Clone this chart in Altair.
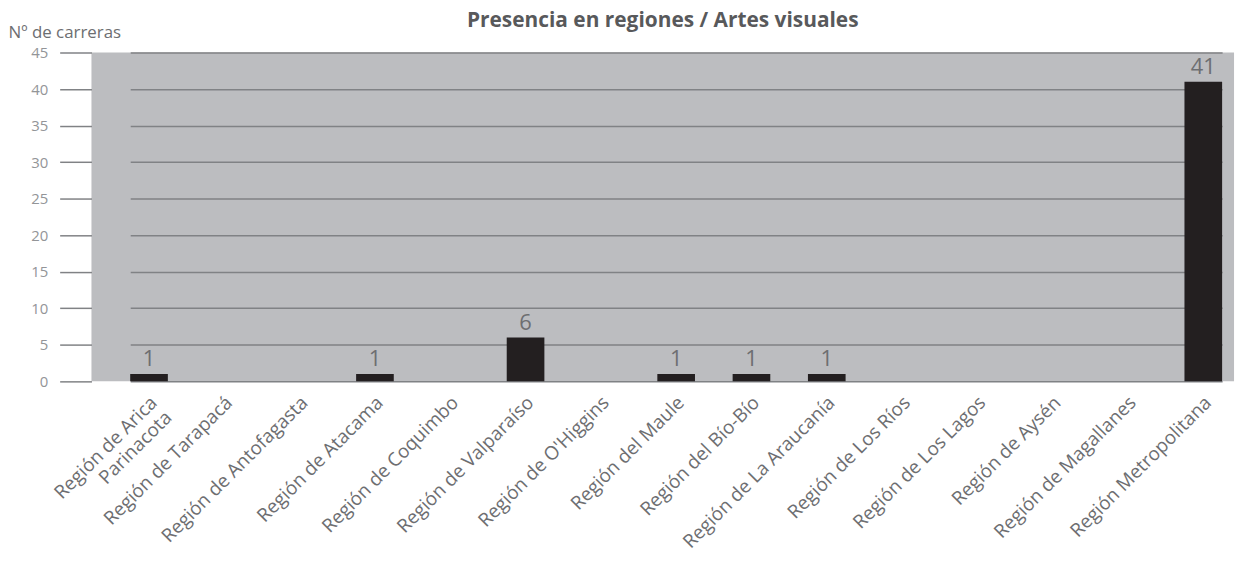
import altair as alt
import pandas as pd

regions = [
    "Región de Arica Parinacota",
    "Región de Tarapacá",
    "Región de Antofagasta",
    "Región de Atacama",
    "Región de Coquimbo",
    "Región de Valparaíso",
    "Región de O'Higgins",
    "Región del Maule",
    "Región del Bío-Bío",
    "Región de La Araucanía",
    "Región de Los Ríos",
    "Región de Los Lagos",
    "Región de Aysén",
    "Región de Magallanes",
    "Región Metropolitana",
]
counts = [1, 0, 0, 1, 0, 6, 0, 1, 1, 1, 0, 0, 0, 0, 41]
y_ticks = [0, 5, 10, 15, 20, 25, 30, 35, 40, 45]

df = pd.DataFrame({"region": regions, "n": counts})

FONT = "Open Sans"

x_scale = alt.Scale(domain=regions, paddingInner=0.5, paddingOuter=0, range=[39, 1138])
y_scale = alt.Scale(domain=[0, 45], nice=False)

base = alt.Chart(df).encode(
    x=alt.X(
        "region:N",
        sort=regions,
        title=None,
        scale=x_scale,
        axis=alt.Axis(
            labelAngle=-45,
            labelAlign="right",
            labelBaseline="middle",
            labelFont=FONT,
            labelFontSize=19,
            labelColor="#6d6e71",
            labelPadding=18,
            labelOffset=5,
            ticks=False,
            domain=False,
            labelOverlap=False,
            labelLimit=400,
            labelExpr="datum.label == 'Región de Arica Parinacota' ? ['Región de Arica', 'Parinacota'] : datum.label",
        ),
    ),
    y=alt.Y(
        "n:Q",
        scale=y_scale,
        title="Nº de carreras",
        axis=alt.Axis(
            values=y_ticks,
            labelOverlap=False,
            grid=True,
            gridColor="#808285",
            gridWidth=1.5,
            ticks=True,
            tickSize=32,
            tickColor="#808285",
            tickWidth=1.5,
            domain=False,
            labelPadding=12,
            labelFont=FONT,
            labelFontSize=15,
            labelColor="#939598",
            titleFont=FONT,
            titleFontSize=17,
            titleFontWeight="normal",
            titleColor="#6d6e71",
            titleAngle=0,
            titleAlign="left",
            titleBaseline="alphabetic",
            titleX=-84,
            titleY=-15,
        ),
    ),
)

bars = base.mark_bar(color="#231f20")

labels = base.mark_text(
    font=FONT, fontSize=22, color="#6d6e71", baseline="alphabetic", dy=-8
).encode(text=alt.Text("n:Q")).transform_filter("datum.n > 0")

chart = (
    alt.layer(bars, labels)
    .properties(
        width=1150,
        height=331,
        autosize=alt.AutoSizeParams(type="none"),
        padding={"left": 84, "top": 43, "right": 6, "bottom": 178},
        title=alt.TitleParams(
            "Presencia en regiones / Artes visuales",
            font=FONT,
            fontSize=21,
            fontWeight="bold",
            color="#58595b",
            anchor="middle",
            offset=-7,
        ),
    )
    .configure_view(fill="#bcbdc0", stroke=None)
)

chart.save("out.html", embed_options={"renderer": "svg", "actions": False})
